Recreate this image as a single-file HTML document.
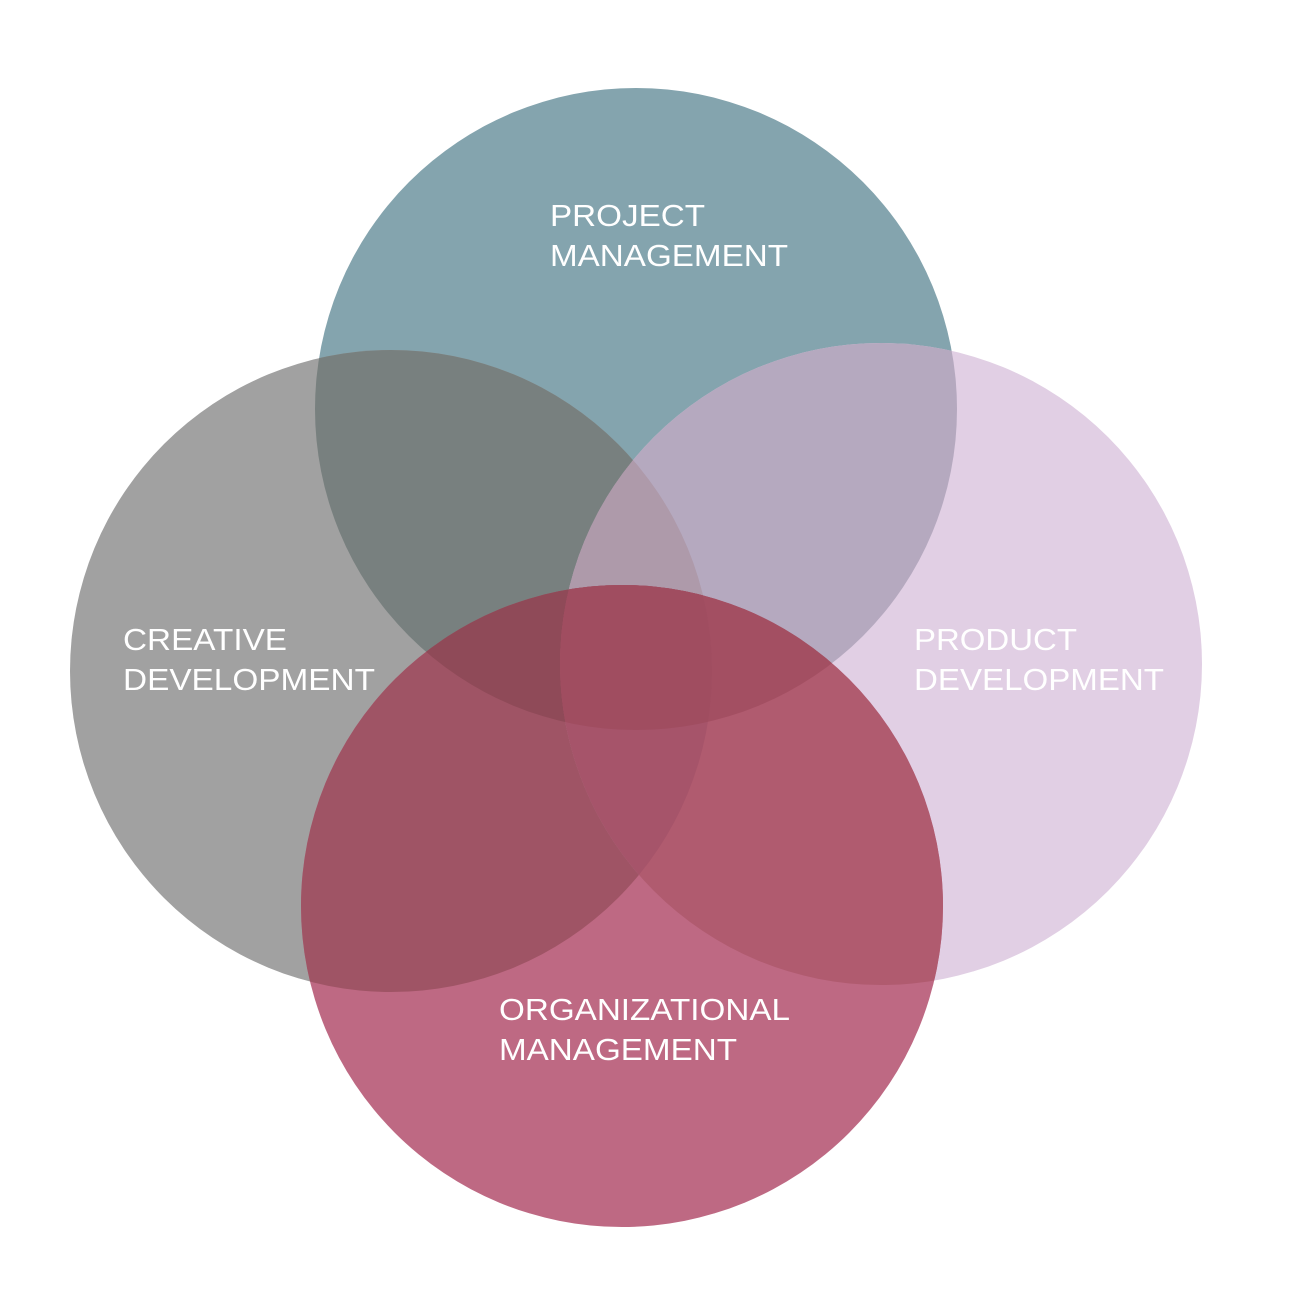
<!DOCTYPE html>
<html><head><meta charset="utf-8"><style>html,body{margin:0;padding:0;background:#fff}svg{display:block}</style></head><body>
<svg width="1293" height="1293" viewBox="0 0 1293 1293" xmlns="http://www.w3.org/2000/svg">
<defs>
<clipPath id="cT"><circle cx="636" cy="409" r="321"/></clipPath>
<clipPath id="cL"><circle cx="391" cy="671" r="321"/></clipPath>
<clipPath id="cR"><circle cx="881" cy="664" r="321"/></clipPath>
<clipPath id="cB"><circle cx="622" cy="906" r="321"/></clipPath>
</defs>
<rect width="1293" height="1293" fill="#fff"/>
<circle cx="636" cy="409" r="321" fill="#84a4ae"/>
<circle cx="391" cy="671" r="321" fill="#a1a1a1"/>
<circle cx="881" cy="664" r="321" fill="#e1cfe4"/>
<circle cx="622" cy="906" r="321" fill="#be6983"/>
<g clip-path="url(#cT)"><circle cx="391" cy="671" r="321" fill="#78807f"/><circle cx="881" cy="664" r="321" fill="#b5a9bf"/><circle cx="622" cy="906" r="321" fill="#a4505f"/></g>
<g clip-path="url(#cL)"><circle cx="622" cy="906" r="321" fill="#9f5465"/><circle cx="881" cy="664" r="321" fill="#ae9aaa"/></g>
<g clip-path="url(#cR)"><circle cx="622" cy="906" r="321" fill="#b05b6f"/></g>
<g clip-path="url(#cT)"><g clip-path="url(#cL)"><circle cx="881" cy="664" r="321" fill="#ae9aaa"/><circle cx="622" cy="906" r="321" fill="#8f4a58"/></g></g>
<g clip-path="url(#cT)"><g clip-path="url(#cR)"><circle cx="622" cy="906" r="321" fill="#a34f62"/></g></g>
<g clip-path="url(#cL)"><g clip-path="url(#cR)"><circle cx="622" cy="906" r="321" fill="#a6546a"/></g></g>
<g clip-path="url(#cT)"><g clip-path="url(#cL)"><g clip-path="url(#cR)"><circle cx="622" cy="906" r="321" fill="#a04d60"/></g></g></g>
<g font-family="Liberation Sans, sans-serif" font-size="31" fill="#fff" lengthAdjust="spacingAndGlyphs">
<text x="550" y="226" textLength="155" lengthAdjust="spacingAndGlyphs">PROJECT</text><text x="550" y="266" textLength="238" lengthAdjust="spacingAndGlyphs">MANAGEMENT</text>
<text x="123" y="650" textLength="164" lengthAdjust="spacingAndGlyphs">CREATIVE</text><text x="123" y="690" textLength="252" lengthAdjust="spacingAndGlyphs">DEVELOPMENT</text>
<text x="914" y="650" textLength="163" lengthAdjust="spacingAndGlyphs">PRODUCT</text><text x="914" y="690" textLength="250" lengthAdjust="spacingAndGlyphs">DEVELOPMENT</text>
<text x="499" y="1020" textLength="291" lengthAdjust="spacingAndGlyphs">ORGANIZATIONAL</text><text x="499" y="1060" textLength="238" lengthAdjust="spacingAndGlyphs">MANAGEMENT</text>
</g>
</svg>
</body></html>
